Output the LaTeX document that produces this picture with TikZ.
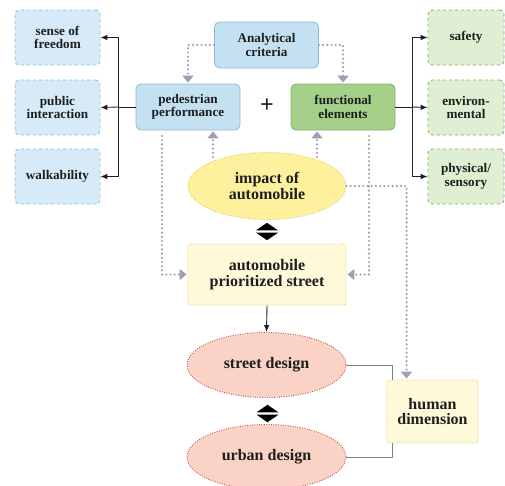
\documentclass[tikz,border=0pt]{standalone}
\usepackage{fontspec}
\setmainfont{Liberation Serif}
\usetikzlibrary{arrows.meta,calc,shapes.geometric}

\definecolor{bluefill}{HTML}{C4E1F2}
\definecolor{blueside}{HTML}{D6EBF7}
\definecolor{blueline}{HTML}{8DBAD8}
\definecolor{greenfill}{HTML}{A6CF8A}
\definecolor{greenside}{HTML}{E0EFD4}
\definecolor{greenline}{HTML}{84AE66}
\definecolor{yelfill}{HTML}{FDF19E}
\definecolor{yelbox}{HTML}{FEFAD9}
\definecolor{yelline}{HTML}{D9CC5E}
\definecolor{redfill}{HTML}{FAD3C6}
\definecolor{redline}{HTML}{C0504D}
\definecolor{dotgray}{HTML}{A09EB2}
\definecolor{txt}{HTML}{1E1E1E}

\tikzset{
  label text/.style={font=\fontsize{13.2}{13.4}\selectfont\bfseries, text=txt, align=center},
  big text/.style={font=\fontsize{16}{15.5}\selectfont\bfseries, text=txt, align=center},
  sidebox/.style={label text, rectangle, rounded corners=4pt, dashed, line width=0.8pt,
    minimum width=85pt, minimum height=55pt},
  mainbox/.style={label text, rectangle, rounded corners=5pt, line width=0.8pt,
    minimum width=104pt, minimum height=46pt},
  yelbubble/.style={big text, ellipse, draw=yelline, fill=yelfill, line width=0.9pt,
    dash pattern=on 0.9pt off 1.5pt},
  redbubble/.style={big text, ellipse, draw=redline, fill=redfill, line width=0.9pt,
    dash pattern=on 0.9pt off 1.5pt, minimum width=159pt, minimum height=65pt},
  yelrect/.style={big text, rectangle, rounded corners=3pt, draw=yelline, fill=yelbox,
    line width=0.9pt, dash pattern=on 0.9pt off 1.5pt},
  dotarrow/.style={dotgray, line width=2.4pt, dash pattern=on 0pt off 4.2pt, line cap=round,
    -{Triangle[width=11pt,length=7pt,line cap=butt]}, shorten >=1pt},
  solidarrow/.style={txt, line width=0.9pt, -{Latex[length=7pt,width=5.5pt]}},
  grayline/.style={gray, line width=0.9pt},
}

\begin{document}
\begin{tikzpicture}[x=1pt,y=-1pt]
	\useasboundingbox (0,0) rectangle (505,485);

	% top row
	\node[mainbox, draw=blueline, fill=bluefill] (criteria) at (266.5,45) {Analytical\\criteria};
	\node[mainbox, draw=blueline, fill=bluefill] (ped) at (188,107) {pedestrian\\performance};
	\node[mainbox, draw=greenline, fill=greenfill] (func) at (343,107) {functional\\elements};
	\node[font=\fontsize{24}{24}\selectfont\bfseries, text=txt] (plus) at (267,106) {+};

	% side boxes
	\node[sidebox, draw=blueline, fill=blueside] (freedom) at (57.5,37.5) {sense of\\freedom};
	\node[sidebox, draw=blueline, fill=blueside] (interaction) at (57.5,107.5) {public\\interaction};
	\node[sidebox, draw=blueline, fill=blueside] (walk) at (57.5,176.5) {walkability};
	\node[sidebox, draw=greenline, fill=greenside, minimum width=76pt] (safety) at (466,37.5) {safety};
	\node[sidebox, draw=greenline, fill=greenside, minimum width=76pt] (environ) at (466,107.5) {environ-\\mental};
	\node[sidebox, draw=greenline, fill=greenside, minimum width=76pt] (physical) at (466,176.5) {physical/\\sensory};

	% middle and bottom
	\node[yelbubble, minimum width=158pt, minimum height=67pt] (impact) at (267,186) {impact of\\automobile};
	\node[yelrect, minimum width=158pt, minimum height=61pt] (prior) at (267,274.5) {automobile\\prioritized street};
	\node[redbubble] (street) at (266.5,365) {street design};
	\node[redbubble] (urban) at (266.5,457) {urban design};
	\node[yelrect, minimum width=91pt, minimum height=63pt] (human) at (432.5,411.5) {human\\dimension};

	% branching to the side boxes
	\coordinate (lsplit) at (118,107);
	\coordinate (rsplit) at (412,107);
	\draw[txt, line width=0.9pt] (ped.west) -- (lsplit);
	\draw[solidarrow] (lsplit) |- (freedom.east);
	\draw[solidarrow] (lsplit) -- (interaction.east);
	\draw[solidarrow] (lsplit) |- (walk.east);
	\draw[txt, line width=0.9pt] (func.east) -- (rsplit);
	\draw[solidarrow] (rsplit) |- (safety.west);
	\draw[solidarrow] (rsplit) -- (environ.west);
	\draw[solidarrow] (rsplit) |- (physical.west);

	% dotted links
	\coordinate (impL) at (213,157);
	\coordinate (impR) at (317,157);
	\coordinate (pedB) at (162,136);
	\coordinate (funcB) at (369,136);
	\coordinate (humT) at ($(human.north west)+(20,0)$);
	\draw[dotarrow] (criteria.west) -| (ped.north);
	\draw[dotarrow] (criteria.east) -| (func.north);
	\draw[dotarrow] (impL) -- (impL |- ped.south);
	\draw[dotarrow] (impR) -- (impR |- func.south);
	\draw[dotarrow] (pedB) |- (prior.west);
	\draw[dotarrow] (funcB) |- (prior.east);
	\draw[dotarrow] (impact.east) -| (humT);

	% design chain
	\draw[solidarrow] (prior.south) -- (street.north);
	\draw[grayline] (street.east) -| ($(human.north west)+(6,0)$);
	\draw[grayline] (urban.east) -| ($(human.south west)+(6,0)$);

	% two-way markers
	\coordinate (swapA) at (267,231.5);
	\coordinate (swapB) at (267.5,413.5);
	\foreach \c in {swapA,swapB}{
		\fill[black] ($(\c)+(-11,-1.2)$) -- ++(11,-7.5) -- ++(11,7.5) -- cycle;
		\fill[black] ($(\c)+(-11,1.2)$) -- ++(11,7.5) -- ++(11,-7.5) -- cycle;
	}
\end{tikzpicture}
\end{document}
